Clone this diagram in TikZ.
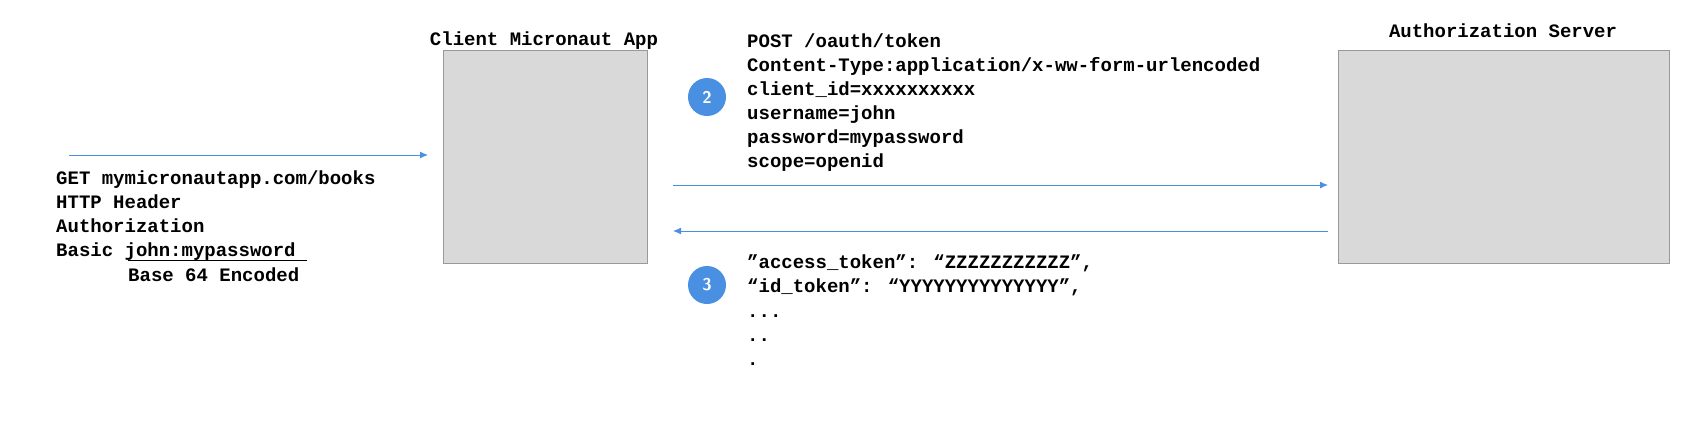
\documentclass[tikz,border=0pt]{standalone}
\usepackage{fontspec}
\setmainfont{Liberation Mono}
\usetikzlibrary{arrows.meta}
\begin{document}
\begin{tikzpicture}[x=1pt,y=-1pt,
  lbl/.style={font=\bfseries\fontsize{19}{24}\selectfont,inner sep=0pt,anchor=base west},
  box/.style={draw=black!40,fill=black!15,line width=1pt},
  arr/.style={draw=arrowblue,line width=1pt,-{Latex[length=8pt,width=7pt]}},
  num/.style={circle,fill=arrowblue,text=white,minimum size=38pt,inner sep=0pt,font=\sffamily\bfseries\fontsize{17}{20}\selectfont}]
\definecolor{arrowblue}{HTML}{4A90E2}
\useasboundingbox (0,0) rectangle (1688,426);
\fill[white] (0,0) rectangle (1688,426);
\draw[box] (443,50) rectangle (647,263);
\draw[box] (1338,50) rectangle (1669,263);
\coordinate (c1) at (443,155);
\coordinate (s0) at (69,155);
\coordinate (ca) at (673,185); \coordinate (sa) at (1328,185);
\coordinate (cb) at (673,231); \coordinate (sb) at (1328,231);
\node[lbl,anchor=base] (cl) at (544,45) {Client Micronaut App};
\node[lbl,anchor=base] (sl) at (1503,37) {Authorization Server};
\draw[arr] (s0) -- (428,155);
\draw[arr] (ca) -- (sa);
\draw[arr] (sb) -- (cb);
\node[lbl] (l1) at (56,184) {GET mymicronautapp.com/books};
\node[lbl] (l2) at (56,208) {HTTP Header};
\node[lbl] (l3) at (56,232) {Authorization};
\node[lbl] (l4) at (56,256) {Basic john:mypassword};
\node[lbl] (l5) at (128,281) {Base 64 Encoded};
\draw[line width=1pt] (128,260) -- (307,260);
\node[lbl] (t1) at (747,47) {POST /oauth/token};
\node[lbl] (t2) at (747,71) {Content-Type:application/x-ww-form-urlencoded};
\node[lbl] (t3) at (747,95) {client\_id=xxxxxxxxxx};
\node[lbl] (t4) at (747,119) {username=john};
\node[lbl] (t5) at (747,143) {password=mypassword};
\node[lbl] (t6) at (747,167) {scope=openid};
\node[num] (n2) at (707,97) {2};
\node[lbl] (b1) at (747,268) {"access\_token": “ZZZZZZZZZZZ”,};
\node[lbl] (b2) at (747,292) {“id\_token": “YYYYYYYYYYYYYY”,};
\node[lbl] (b3) at (747,317) {...};
\node[lbl] (b4) at (747,341) {..};
\node[lbl] (b5) at (747,365) {.};
\node[num] (n3) at (707,285) {3};
\end{tikzpicture}
\end{document}
